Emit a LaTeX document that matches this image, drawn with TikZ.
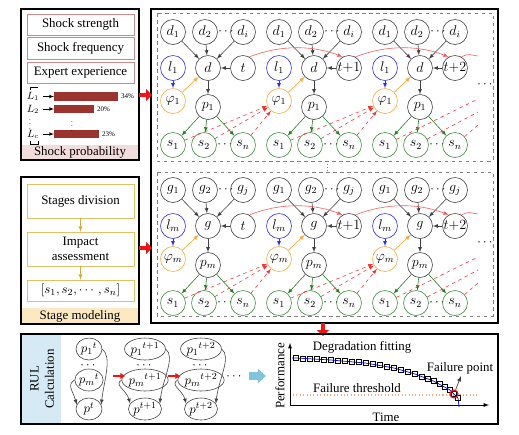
\documentclass[tikz,border=0pt]{standalone}
\usepackage{amsmath,amssymb}
\usepackage{fontspec}
\setmainfont{Liberation Serif}
\usepackage{xcolor}
\usepackage{tikz}
\usetikzlibrary{calc,shapes,positioning}
\usetikzlibrary{arrows,arrows.meta}

\definecolor{ngray}{RGB}{65,65,65}
\definecolor{lblue}{RGB}{45,45,235}
\definecolor{forange}{RGB}{248,172,64}
\definecolor{sgreen}{RGB}{60,145,55}
\definecolor{egreen}{RGB}{40,125,35}
\definecolor{dred}{RGB}{240,55,55}
\definecolor{cred}{RGB}{245,90,90}
\definecolor{barred}{RGB}{155,52,46}
\definecolor{shockline}{RGB}{206,138,138}
\definecolor{shockband}{RGB}{243,220,220}
\definecolor{stageline}{RGB}{228,190,105}
\definecolor{stagearrow}{RGB}{212,168,66}
\definecolor{stageband}{RGB}{252,233,195}
\definecolor{rulband}{RGB}{214,234,245}
\definecolor{rulblue}{RGB}{128,196,222}
\definecolor{thresh}{RGB}{245,172,125}
\definecolor{bigred}{RGB}{240,20,20}

\begin{document}
\begin{tikzpicture}[x=0.03cm,y=-0.03cm,font=\fontsize{11}{13}\selectfont]
      \tikzstyle{gnode} = [draw=ngray, circle, line width=0.5pt, minimum size=0.75cm, inner sep=0pt, font=\fontsize{12}{14}\selectfont]
      \tikzstyle{lnode} = [gnode, draw=lblue]
      \tikzstyle{fnode} = [gnode, draw=forange]
      \tikzstyle{snode} = [gnode, draw=sgreen]
      \tikzstyle{pnode} = [draw=ngray, ellipse, line width=0.5pt, minimum width=0.78cm, minimum height=0.66cm, inner sep=0pt, font=\fontsize{11}{13}\selectfont]
      \tikzstyle{kedge} = [-latex, ngray, line width=0.5pt]
      \tikzstyle{ledge} = [-latex, lblue, line width=0.5pt]
      \tikzstyle{fedge} = [-latex, forange, line width=0.6pt]
      \tikzstyle{sedge} = [-latex, egreen, line width=0.5pt]
      \tikzstyle{dedge} = [-latex, dred, dashed, line width=0.5pt]
      \tikzstyle{tcurve} = [-latex, cred, line width=0.5pt]
      \tikzstyle{frame} = [draw=black, line width=1.1pt]
      \tikzstyle{dbox} = [draw=gray, dashed, line width=0.7pt]
      \tikzstyle{shockbox} = [draw=shockline, line width=0.6pt, minimum width=3.21cm, inner sep=0pt]
      \tikzstyle{stagebox} = [draw=stageline, line width=0.6pt, minimum width=3.21cm, inner sep=0pt, align=center]
      \tikzstyle{bar} = [fill=barred, anchor=west, minimum height=0.26cm, inner sep=0pt]
      \tikzstyle{lab} = [font=\fontsize{9}{10}\selectfont, inner sep=0.5pt]
      \tikzstyle{vdot} = [font=\fontsize{6}{7}\selectfont, inner sep=0pt]
      \tikzstyle{pct} = [font=\fontsize{6}{7}\selectfont, inner sep=0.5pt]
      \tikzstyle{bigarrow} = [bigred, line width=4pt, -{Triangle[length=5pt,width=10pt]}]
      \tikzstyle{redarrow} = [bigred, line width=1.2pt, -{Triangle[length=4pt,width=5pt]}]
      \tikzstyle{sqmark} = [draw=black, rectangle, line width=0.6pt, minimum size=0.15cm, inner sep=0pt]

      \useasboundingbox (0,0) rectangle (519,434);
      \fill[white] (0,0) rectangle (519,434);

      % shock probability
      \fill[shockband] (21,145) rectangle (139,160);
      \node[shockbox, minimum height=0.63cm] (sstr) at (80.5,24.5) {Shock strength};
      \node[shockbox, minimum height=0.66cm] (sfrq) at (80.5,48) {Shock frequency};
      \node[shockbox, minimum height=0.63cm] (sexp) at (80.5,72.5) {Expert experience};

      \node[lab] (L1) at (33,96.5) {$L_1$};
      \node[lab] (L2) at (33,109) {$L_2$};
      \node[lab] (Lc) at (33,134) {$L_c$};
      \node[vdot] (Lv) at (30,121) {$\vdots$};
      \node[bar, minimum width=1.92cm] (bar1) at (54,96.5) {};
      \node[bar, minimum width=1.2cm] (bar2) at (54,109) {};
      \node[bar, minimum width=1.35cm] (barc) at (54,134) {};
      \node[vdot] (barv) at (72,123) {$\vdots$};
      \node[pct, right=1.5pt of bar1] (pct1) {34\%};
      \node[pct, right=1.5pt of bar2] (pct2) {20\%};
      \node[pct, right=1.5pt of barc] (pctc) {23\%};
      \draw[-latex, shorten <=3pt] (L1) to (bar1);
      \draw[-latex, shorten <=3pt] (L2) to (bar2);
      \draw[-latex, shorten <=3pt] (Lc) to (barc);
      \draw[line width=0.5pt] (30,90) -- (30,87) -- (38,87);
      \draw[line width=0.5pt] (30,141) -- (30,144) -- (38,144) -- (38,141);
      \node (sprob) at (80,152.5) {Shock probability};
      \draw[frame] (21,9) rectangle (139,160);

      % stage modeling
      \fill[stageband] (21,308) rectangle (139,324);
      \node[stagebox, minimum height=1.02cm] (sdiv) at (80.5,201) {Stages division};
      \node[stagebox, minimum height=1.02cm] (simp) at (80.5,249) {Impact\\assessment};
      \node[stagebox, minimum height=0.63cm] (svec) at (80.5,290.5) {$[s_1,s_2,\cdots,s_n]$};
      \node (smod) at (80,316) {Stage modeling};
      \draw[-latex, stagearrow, line width=0.6pt] (sdiv) to (simp);
      \draw[-latex, stagearrow, line width=0.6pt] (simp) to (svec);
      \draw[frame] (21,177) rectangle (139,324);

      % network panels
      \draw[frame] (151,9) rectangle (498,323);
      \draw[dbox] (157,13) rectangle (493,161);
      \draw[dbox] (157,172) rectangle (493,316);
      \coordinate (du) at (327,161);
      \coordinate (dw) at (327,172);
      \draw[gray, dotted, line width=0.7pt] (du) -- (dw);

      \foreach \pn/\yo/\vn/\vi/\vm in {u/0/d/i/1, w/158/g/j/m} {
        \foreach \k/\bx/\tx in {1/173/t, 2/279/t{+}1, 3/385/t{+}2} {
          \node[gnode] (\pn a\k) at (\bx,32+\yo) {$\vn_1$};
          \node[gnode] (\pn b\k) at (\bx+32,32+\yo) {$\vn_2$};
          \node (\pn e\k) at (\bx+54,32+\yo) {$\cdots$};
          \node[gnode] (\pn c\k) at (\bx+70,32+\yo) {$\vn_\vi$};
          \node[lnode] (\pn l\k) at (\bx,68+\yo) {$l_\vm$};
          \node[gnode] (\pn d\k) at (\bx+35,68+\yo) {$\vn$};
          \node[gnode] (\pn t\k) at (\bx+70,68+\yo) {$\tx$};
          \node[fnode] (\pn f\k) at (\bx,101+\yo) {$\varphi_\vm$};
          \node[gnode] (\pn p\k) at (\bx+35,107+\yo) {$p_\vm$};
          \node[snode] (\pn s\k) at (\bx,145+\yo) {$s_1$};
          \node[snode] (\pn r\k) at (\bx+31,145+\yo) {$s_2$};
          \node (\pn q\k) at (\bx+53,145+\yo) {$\cdots$};
          \node[snode] (\pn n\k) at (\bx+70,145+\yo) {$s_n$};
          % connections
          \draw[kedge] (\pn a\k) to (\pn d\k);
          \draw[kedge] (\pn b\k) to (\pn d\k);
          \draw[kedge] (\pn c\k) to (\pn d\k);
          \draw[kedge] (\pn t\k) to (\pn d\k);
          \draw[kedge] (\pn d\k) to (\pn p\k);
          \draw[ledge] (\pn l\k) to (\pn f\k);
          \draw[fedge] (\pn f\k) to (\pn d\k);
          \draw[sedge] (\pn p\k) to (\pn s\k);
          \draw[sedge] (\pn p\k) to (\pn r\k);
          \draw[sedge] (\pn p\k) to (\pn n\k);
        }
        \node (\pn m) at (486,85+\yo) {$\cdots$};
        \coordinate (\pn zs) at (478,99+\yo);
        \coordinate (\pn zr) at (478,112+\yo);
        \coordinate (\pn zn) at (478,125+\yo);
        \coordinate (\pn te) at (478,56+\yo);
        \foreach \k/\j in {1/2, 2/3} {
          \foreach \x in {s,r,n} \draw[dedge] (\pn\x\k) to (\pn f\j);
        }
        \draw[dedge, -] (\pn s3) to (\pn zs);
        \draw[dedge, -] (\pn r3) to (\pn zr);
        \draw[dedge, -] (\pn n3) to (\pn zn);
        \draw[tcurve] (\pn t1.60) .. controls +(30,-12) and +(-30,-12) .. (\pn t2.120);
        \draw[tcurve] (\pn t2.60) .. controls +(30,-12) and +(-30,-12) .. (\pn t3.120);
        \draw[tcurve, -] (\pn t3.60) .. controls +(8,-4) and +(-8,-1) .. (\pn te);
      }

      \coordinate (ra0) at (139,95);
      \coordinate (ra1) at (152,95);
      \coordinate (rb0) at (139,248);
      \coordinate (rb1) at (152,248);
      \coordinate (rc0) at (323,323);
      \coordinate (rc1) at (323,336);
      \draw[bigarrow] (ra0) -- (ra1);
      \draw[bigarrow] (rb0) -- (rb1);
      \draw[bigarrow] (rc0) -- (rc1);

      % RUL calculation
      \fill[rulband] (21,334) rectangle (61,424);
      \node[rotate=90, align=center] (rul) at (42,379) {RUL\\Calculation};
      \foreach \c/\cx/\tx in {1/89/t, 2/145/t{+}1, 3/201/t{+}2} {
        \node[pnode] (pa\c) at (\cx,349) {${p_1}^{\tx}$};
        \node (pd\c) at (\cx,366) {$\cdots$};
        \node[pnode] (pb\c) at (\cx,380) {${p_m}^{\tx}$};
        \node[pnode] (pc\c) at (\cx,409) {$p^{\tx}$};
        \draw[kedge] (pa\c.east) .. controls +(10,8) and +(3,-25) .. (pc\c.20);
        \draw[kedge] (pb\c.west) .. controls +(-8,5) and +(-4,-14) .. (pc\c.160);
      }
      \coordinate (qa1) at (113,376);
      \coordinate (qb1) at (125,376);
      \coordinate (qa2) at (168,376);
      \coordinate (qb2) at (180,376);
      \draw[redarrow] (qa1) -- (qb1);
      \draw[redarrow] (qa2) -- (qb2);
      \node (pdots) at (235,377) {$\cdots$};
      \coordinate (ba0) at (249,376);
      \coordinate (ba1) at (266,376);
      \draw[rulblue, line width=6pt, -{Triangle[length=7pt,width=12pt]}] (ba0) -- (ba1);

      % degradation chart
      \coordinate (org) at (290,405);
      \coordinate (ytop) at (290,343);
      \coordinate (xend) at (489,405);
      \draw[-latex, line width=0.6pt] (org) -- (ytop);
      \draw[-latex, line width=0.6pt] (org) -- (xend);
      \node[rotate=90] (perf) at (280,376) {Performance};
      \node (time) at (386,417) {Time};
      \node (degr) at (362,347) {Degradation fitting};
      \node (fpt) at (460,368) {Failure point};
      \node (fthr) at (357,388) {Failure threshold};
      \coordinate (th0) at (293,395);
      \coordinate (th1) at (477,395);
      \draw[thresh, dotted, line width=0.9pt] (th0) -- (th1);
      \draw[blue, line width=0.6pt] plot coordinates {(292,358) (296,358) (331,360) (366,363.1) (394,368) (415,374) (434,381.3) (450,390) (458,398) (459,407)};
      \foreach \mx/\my [count=\mi] in {296/358, 303/358.4, 310/358.8, 317/359.2, 324/359.6, 331/360,
          338/360.5, 345/361, 352/361.6, 359/362.3, 366/363.1, 373/364, 380/365.2, 387/366.5,
          394/368, 401/369.8, 408/371.8, 415/374, 422/376.4, 428/378.8, 434/381.3, 440/384,
          445/386.8, 450/390, 454/393.5, 458/398}
        \node[sqmark] (mk\mi) at (\mx,\my) {};
      \node[draw=red, circle, line width=0.9pt, minimum size=0.24cm, inner sep=0pt] (fail) at (454,394) {};
      \coordinate (fa1) at (461,376);
      \draw[kedge, line width=0.6pt] (fail) -- (fa1);
      \draw[frame] (21,334) rectangle (498,424);
\end{tikzpicture}
\end{document}
